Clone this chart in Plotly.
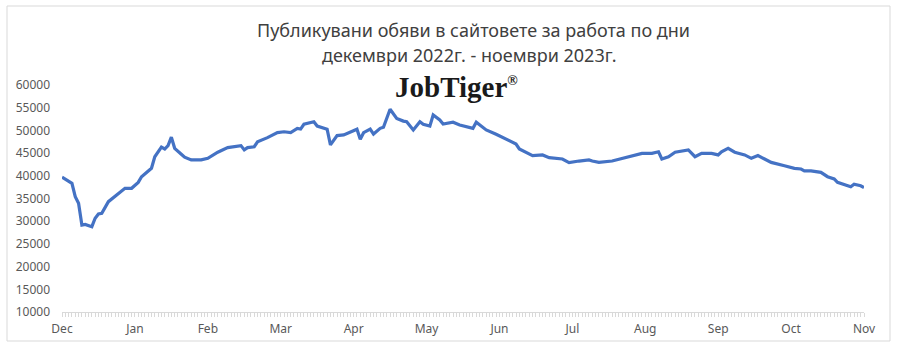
import plotly.graph_objects as go

# working-day index (22 per month, Dec 2022 -> Nov 2023) and published job ads
days = [0, 3, 4, 5, 6, 7, 9, 10, 11, 12, 14, 17, 19, 21, 23, 24, 27, 28, 30, 31,
        32, 33, 34, 36, 37, 39, 42, 44, 47, 50, 54, 55, 56, 58, 59, 62, 63, 65, 67, 69,
        71, 72, 73, 76, 77, 80, 81, 83, 85, 87, 89, 90, 91, 93, 94, 96, 97, 99, 101, 103,
        104, 106, 108, 109, 111, 112, 114, 115, 117, 118, 120, 122, 124, 125, 128, 131, 134, 137, 138, 140,
        142, 145, 147, 151, 153, 156, 159, 160, 162, 166, 169, 172, 175, 178, 180, 181, 183, 185, 187, 189,
        191, 193, 196, 198, 199, 201, 203, 206, 208, 210, 212, 214, 218, 221, 223, 224, 226, 229, 231, 233,
        234, 236, 238, 239, 241, 242]
ads = [39700, 38350, 35400, 33950, 29150, 29300, 28800, 30650, 31600, 31750, 34300, 36150, 37250, 37250, 38550, 39800, 41650, 44200, 46300, 45900,
       46650, 48500, 46050, 44750, 44100, 43500, 43500, 43850, 45200, 46200, 46650, 45700, 46200, 46400, 47500, 48400, 48750, 49500, 49700, 49500,
       50450, 50300, 51350, 51900, 50950, 50250, 46800, 48850, 49000, 49700, 50250, 48050, 49500, 50300, 49200, 50450, 50700, 54650, 52650, 52050,
       51900, 50100, 51900, 51350, 50950, 53400, 52300, 51400, 51550, 51800, 51200, 50800, 50450, 51800, 50100, 49150, 48050, 47000, 45900, 45200,
       44450, 44600, 44000, 43700, 42900, 43250, 43500, 43250, 42950, 43250, 43850, 44450, 44950, 44950, 45300, 43700, 44200, 45200, 45450, 45700,
       44200, 44950, 44950, 44600, 45300, 46050, 45200, 44600, 43850, 44450, 43700, 42950, 42200, 41650, 41500, 41100, 41100, 40750, 39800, 39300,
       38550, 38150, 37600, 38150, 37800, 37400]

month_labels = ["Dec", "Jan", "Feb", "Mar", "Apr", "May", "Jun", "Jul", "Aug", "Sep", "Oct", "Nov"]
month_pos = [i * 22 for i in range(len(month_labels))]
y_ticks = list(range(10000, 60001, 5000))

title_l1 = "Публикувани обяви в сайтовете за работа по дни"
title_l2 = "декември 2022г. - ноември 2023г."
brand = "JobTiger<sup><span style='font-size:14px'>®</span></sup>"

W, H = 900, 354
L, R, T, B = 62, 36, 85, 42
pw, ph = W - L - R, H - T - B

def px(x):
    return (x - L) / pw

def py(y):
    return (H - B - y) / ph

fig = go.Figure()
fig.add_trace(go.Scatter(
    x=days, y=ads, mode="lines",
    line=dict(color="#4472C4", width=3.2),
    hoverinfo="skip", showlegend=False,
))

fig.update_layout(
    width=W, height=H,
    margin=dict(l=L, r=R, t=T, b=B),
    paper_bgcolor="white", plot_bgcolor="white",
    font=dict(family="Noto Sans, Open Sans, sans-serif", color="#595959", size=12),
    xaxis=dict(
        range=[0, 242], tickvals=month_pos, ticktext=month_labels,
        showgrid=False, zeroline=False,
        showline=True, linecolor="#d9d9d9", linewidth=1,
        ticks="outside", ticklen=4, tickcolor="#d9d9d9",
        minor=dict(dtick=1, tick0=0, ticks="outside", ticklen=4, tickcolor="#d9d9d9"),
        tickfont=dict(size=12, color="#595959"),
        ticklabelstandoff=2,
    ),
    yaxis=dict(
        range=[10000, 60000], tickvals=y_ticks, tickformat="d",
        showgrid=False, zeroline=False, showline=False,
        tickfont=dict(size=12, color="#595959"),
        ticklabelstandoff=11,
    ),
    shapes=[dict(type="rect", xref="paper", yref="paper",
                 x0=px(7), x1=px(890), y0=py(341), y1=py(6),
                 line=dict(color="#d9d9d9", width=1), fillcolor="rgba(0,0,0,0)", layer="below")],
    annotations=[
        dict(text=title_l1, x=px(473), y=py(30), xref="paper", yref="paper",
             showarrow=False, xanchor="center", yanchor="middle",
             font=dict(size=18, color="#404040", family="Noto Sans, sans-serif")),
        dict(text=title_l2, x=px(469), y=py(55), xref="paper", yref="paper",
             showarrow=False, xanchor="center", yanchor="middle",
             font=dict(size=18, color="#404040", family="Noto Sans, sans-serif")),
        dict(text=brand, x=px(456), y=py(87), xref="paper", yref="paper",
             showarrow=False, xanchor="center", yanchor="middle",
             font=dict(size=29, color="#1a1a1a", family="Liberation Serif, DejaVu Serif, serif", weight="bold")),
    ],
)

fig.write_html("out.html")
